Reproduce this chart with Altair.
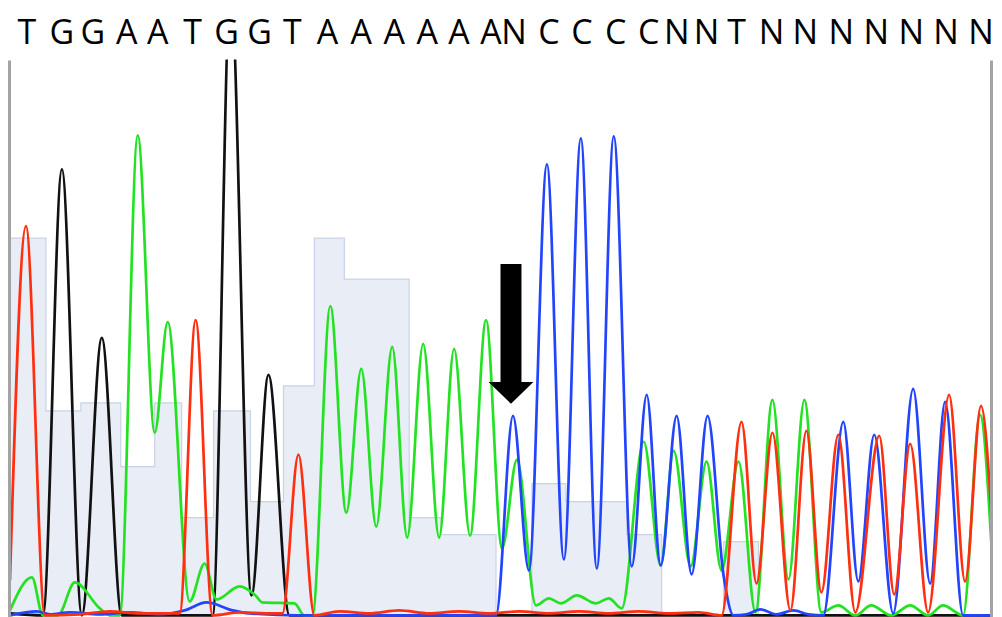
import altair as alt
import pandas as pd

# Base calls and their positions along the trace
bases = list("TGGAATGGTAAAAAANCCCCNNTNNNNNNN")
base_pos = [27, 62, 93, 127, 158, 193, 227, 260, 293, 328, 362, 395, 428, 460, 492,
            515, 550, 583, 617, 650, 678, 708, 738, 773, 807, 843, 878, 913, 948, 983]

# Quality bars (step starts and heights)
qual_start = [10, 46, 81, 121, 155, 182, 214, 251, 284, 315, 345, 410, 442, 497,
              533, 567, 628, 663, 725, 760, 994]
qual_value = [378, 205, 213, 149, 213, 98, 205, 114, 230, 378, 337, 98, 81, 0,
              132, 114, 81, 0, 74, 0, 0]

# Trace channels (position, signal)
red_x = [10, 26, 45, 80, 110, 140, 180, 196, 213, 240, 270, 283, 299, 315, 340, 370,
         400, 430, 460, 490, 520, 550, 580, 610, 640, 670, 700, 723, 743, 758, 774,
         792, 808, 823, 840, 857, 881, 896, 912, 930, 951, 967, 983, 994]
red_y = [35, 390, 0, 1, 4, 2, 2, 296, 0, 3, 2, 2, 161, 0, 4, 2,
         5, 2, 4, 2, 4, 2, 4, 2, 4, 2, 3, 0, 194, 32, 183,
         5, 185, 23, 181, 3, 180, 21, 172, 3, 221, 34, 210, 92]

black_x = [10, 43, 62, 82, 102, 122, 160, 213, 231, 252, 269, 290, 994]
black_y = [2, 0, 447, 0, 278, 0, 0, 0, 630, 20, 241, 0, 0]

green_x = [10, 32, 43, 58, 75, 100, 110, 120, 138, 155, 168, 190, 205, 217, 240, 256,
           263, 295, 305, 313, 331, 347, 362, 377, 393, 408, 424, 440, 455, 471, 487,
           503, 518, 537, 550, 562, 578, 597, 610, 623, 645, 662, 675, 692, 708, 723,
           740, 757, 774, 790, 806, 823, 840, 857, 873, 893, 912, 930, 945, 965, 982, 994]
green_y = [5, 38, 0, 0, 33, 7, 0, 0, 481, 183, 294, 14, 52, 16, 29, 20,
           13, 12, 0, 0, 310, 103, 247, 89, 269, 78, 272, 78, 267, 80, 296,
           67, 156, 10, 17, 12, 20, 12, 17, 7, 174, 50, 165, 49, 154, 45,
           154, 3, 216, 36, 216, 3, 10, 0, 10, 0, 10, 0, 10, 0, 201, 60]

blue_x = [10, 37, 50, 70, 100, 130, 160, 185, 207, 233, 250, 300, 400, 497, 514, 530,
          548, 565, 582, 598, 615, 633, 648, 662, 678, 693, 709, 725, 735, 748, 762,
          778, 795, 810, 825, 845, 860, 876, 895, 915, 932, 947, 965, 994]
blue_y = [0, 4, 1, 3, 1, 3, 1, 5, 13, 5, 2, 0, 0, 0, 200, 45,
          452, 56, 478, 47, 480, 49, 221, 50, 200, 41, 200, 40, 0, 1, 6,
          1, 5, 1, 0, 194, 34, 181, 2, 227, 32, 214, 0, 0]

# Annotation arrow marking the first blue peak
arrow_x = [512]
arrow_mid = [282]

frame_x = [9.5, 993.5]

W = 986
xscale = alt.Scale(domain=[8, 994], nice=False, zero=False)
yscale = alt.Scale(domain=[-2, 557], nice=False, zero=False)
PH = 559

qual_df = pd.DataFrame({"x": qual_start, "y": qual_value})

def trace(xs, ys, color):
    df = pd.DataFrame({"x": xs, "y": ys})
    return alt.Chart(df).mark_line(
        interpolate="monotone", color=color, strokeWidth=2.7,
        strokeJoin="round", clip=True
    ).encode(
        x=alt.X("x:Q", scale=xscale, axis=None),
        y=alt.Y("y:Q", scale=yscale, axis=None),
    )

qual_area = alt.Chart(qual_df).mark_area(
    interpolate="step-after", color="#e9edf5", clip=True
).encode(
    x=alt.X("x:Q", scale=xscale, axis=None),
    y=alt.Y("y:Q", scale=yscale, axis=None),
)
qual_line = alt.Chart(qual_df).mark_line(
    interpolate="step-after", color="#c9d3e6", strokeWidth=1.2, clip=True
).encode(
    x=alt.X("x:Q", scale=xscale, axis=None),
    y=alt.Y("y:Q", scale=yscale, axis=None),
)

frame = alt.Chart(pd.DataFrame({"x": frame_x})).mark_rule(
    color="#a3a3a3", strokeWidth=3
).encode(
    x=alt.X("x:Q", scale=xscale, axis=None),
    y=alt.value(1),
    y2=alt.value(PH),
)

arrow_path = ("M-0.15,-1L0.15,-1L0.15,0.686L0.321,0.686L0,1L-0.321,0.686"
              "L-0.15,0.686Z")
arrow = alt.Chart(pd.DataFrame({"x": arrow_x, "y": arrow_mid})).mark_point(
    shape=arrow_path, size=19600, filled=True, color="black", opacity=1,
    strokeWidth=0
).encode(
    x=alt.X("x:Q", scale=xscale, axis=None),
    y=alt.Y("y:Q", scale=yscale, axis=None),
)

plot = alt.layer(
    qual_area, qual_line,
    trace(black_x, black_y, "#111111"),
    trace(green_x, green_y, "#22e222"),
    trace(blue_x, blue_y, "#2244ff"),
    trace(red_x, red_y, "#ff2f10"),
    frame, arrow,
).properties(width=W, height=PH)

letters = alt.Chart(pd.DataFrame({"x": base_pos, "b": bases})).mark_text(
    font="Open Sans", fontSize=34, color="black", align="center",
    baseline="alphabetic"
).encode(
    x=alt.X("x:Q", scale=xscale, axis=None),
    y=alt.value(35),
    text="b:N",
).properties(width=W, height=50)

chart = alt.vconcat(letters, plot, spacing=0).properties(
    padding=0
).configure(background="white").configure_view(stroke=None)

chart.save("out.html", embed_options={"renderer": "svg", "actions": False})
